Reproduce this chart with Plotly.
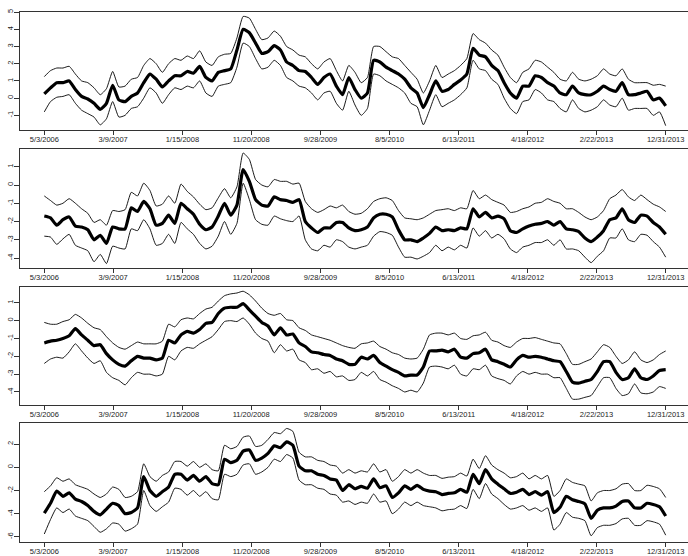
import pandas as pd
import plotly.graph_objects as go

# ---- data -----------------------------------------------------------------
start = pd.Timestamp("2006-05-03")
end = pd.Timestamp("2013-12-31")
dates = pd.date_range(start, end, periods=101)

tick_dates = ["2006-05-03", "2007-03-09", "2008-01-15", "2008-11-20", "2009-09-28",
              "2010-08-05", "2011-06-13", "2012-04-18", "2013-02-22", "2013-12-31"]
tick_labels = ["5/3/2006", "3/9/2007", "1/15/2008", "11/20/2008", "9/28/2009",
               "8/5/2010", "6/13/2011", "4/18/2012", "2/22/2013", "12/31/2013"]

p1_mid = [0.25, 0.6, 0.9, 0.9, 1.0, 0.5, 0.1, -0.05, -0.3, -0.65,
          -0.3, 0.75, -0.1, -0.2, 0.1, 0.3, 0.9, 1.4, 1.1, 0.65,
          1.0, 1.3, 1.3, 1.55, 1.45, 1.85, 1.2, 1.0, 1.5, 1.6,
          1.7, 2.8, 4.0, 3.8, 3.2, 2.6, 2.7, 3.05, 2.8, 2.1,
          1.9, 1.6, 1.55, 1.2, 0.8, 1.2, 1.4, 0.7, 0.2, 1.2,
          0.5, 0.0, 0.3, 2.2, 2.1, 1.8, 1.6, 1.4, 1.1, 0.6,
          0.3, -0.55, 0.2, 1.0, 0.4, 0.5, 0.8, 1.05, 1.4, 2.9,
          2.5, 2.4, 1.9, 1.6, 0.9, 0.3, 0.0, 0.7, 0.7, 1.3,
          1.2, 0.9, 0.7, 0.3, 0.2, 0.7, 0.3, 0.2, 0.2, 0.4,
          0.7, 0.5, 0.4, 0.9, 0.2, 0.2, 0.3, 0.4, -0.1, 0.0,
          -0.45]
p1_hi = [1.25, 1.6, 1.75, 1.75, 1.85, 1.4, 1.0, 0.9, 0.6, 0.2,
         0.55, 1.55, 0.65, 0.7, 1.1, 1.2, 1.9, 2.3, 2.0, 1.5,
         2.0, 2.3, 2.2, 2.45, 2.3, 2.75, 2.1, 1.9, 2.4, 2.55,
         2.6, 3.5, 4.75, 4.65, 4.0, 3.4, 3.5, 3.9, 3.6, 3.0,
         2.8, 2.5, 2.4, 2.0, 1.7, 2.1, 2.3, 1.6, 1.0, 1.9,
         1.5, 0.9, 1.2, 3.0, 3.0, 2.7, 2.4, 2.3, 1.9, 1.5,
         1.1, 0.3, 1.0, 1.9, 1.2, 1.4, 1.6, 1.9, 2.3, 3.75,
         3.4, 3.2, 2.8, 2.5, 1.8, 1.2, 0.9, 1.5, 1.7, 2.2,
         2.1, 1.8, 1.5, 1.1, 1.0, 1.5, 1.1, 1.0, 1.1, 1.3,
         1.7, 1.4, 1.3, 1.7, 1.1, 0.9, 0.9, 0.9, 0.75, 0.8,
         0.7]
p1_lo = [-0.8, -0.2, 0.05, 0.1, 0.2, -0.3, -0.7, -0.9, -1.1, -1.55,
         -1.2, -0.2, -1.1, -1.0, -0.6, -0.5, 0.0, 0.6, 0.3, -0.3,
         0.2, 0.6, 0.5, 0.7, 0.6, 1.0, 0.3, 0.1, 0.7, 0.8,
         0.9, 1.8, 3.2, 3.0, 2.3, 1.7, 1.8, 2.2, 1.9, 1.2,
         1.0, 0.7, 0.6, 0.3, -0.1, 0.3, 0.4, -0.3, -0.7, 0.4,
         -0.4, -1.0, -0.6, 1.4, 1.3, 1.0, 0.8, 0.6, 0.3, -0.3,
         -0.5, -1.55, -0.7, 0.2, -0.5, -0.3, -0.1, 0.2, 0.6, 2.2,
         1.7, 1.6, 1.1, 0.8, 0.0, -0.6, -0.9, -0.2, -0.1, 0.5,
         0.3, -0.1, -0.2, -0.6, -0.8, -0.1, -0.6, -0.8, -0.7, -0.5,
         -0.1, -0.4, -0.5, 0.0, -0.7, -0.6, -0.6, -0.6, -1.0, -0.8,
         -1.6]

p2_mid = [-1.7, -1.8, -2.2, -1.9, -1.75, -2.25, -2.3, -2.45, -3.0, -2.75,
          -3.2, -2.3, -2.4, -2.4, -1.25, -1.45, -0.9, -1.3, -2.2, -2.1,
          -1.65, -2.1, -1.0, -1.3, -1.6, -2.15, -2.45, -2.3, -1.7, -1.0,
          -1.65, -1.1, 0.85, 0.2, -0.8, -1.1, -1.15, -0.65, -0.8, -0.85,
          -0.95, -0.8, -2.0, -2.35, -2.6, -2.35, -2.35, -2.05, -2.05, -2.35,
          -2.5, -2.45, -2.3, -1.8, -1.6, -1.6, -1.75, -2.45, -3.0, -3.0,
          -3.1, -2.9, -2.65, -2.3, -2.5, -2.45, -2.5, -2.35, -2.4, -1.3,
          -1.75, -1.5, -1.8, -1.7, -1.85, -2.5, -2.6, -2.4, -2.25, -2.15,
          -2.1, -2.0, -2.2, -2.0, -2.4, -2.45, -2.55, -2.9, -3.1, -2.85,
          -2.5, -1.9, -1.8, -1.3, -1.9, -2.05, -1.65, -1.7, -2.05, -2.3,
          -2.7]
p2_hi = [-0.6, -0.85, -1.1, -1.0, -0.75, -1.0, -1.3, -1.55, -2.05, -1.9,
         -2.2, -1.4, -1.45, -1.35, -0.4, -0.6, 0.1, -0.3, -1.15, -1.05,
         -0.6, -1.0, 0.05, -0.35, -0.65, -1.05, -1.35, -1.25, -0.7, -0.2,
         -0.7, -0.1, 1.75, 1.4, 0.3, 0.0, -0.1, 0.3, 0.2, 0.2,
         0.05, 0.1, -0.9, -1.3, -1.5, -1.35, -1.15, -1.25, -1.1, -1.45,
         -1.6, -1.55, -1.3, -0.9, -0.75, -0.7, -0.85, -1.4, -1.8, -1.85,
         -1.9, -1.8, -1.6, -1.4, -1.35, -1.3, -1.4, -1.25, -1.3, -0.3,
         -0.75, -0.55, -0.8, -0.95, -1.1, -1.5, -1.45, -1.3, -1.2, -1.0,
         -0.95, -0.75, -0.9, -1.0, -1.3, -1.3, -1.5, -1.75, -1.9, -1.75,
         -1.4, -0.75, -0.55, -0.25, -0.65, -0.85, -0.55, -0.8, -1.05, -1.2,
         -1.45]
p2_lo = [-2.8, -2.85, -3.25, -2.95, -2.7, -3.3, -3.45, -3.6, -4.2, -3.8,
         -4.3, -3.35, -3.45, -3.5, -2.4, -2.5, -1.9, -2.4, -3.3, -3.2,
         -2.7, -3.2, -2.05, -2.4, -2.7, -3.2, -3.5, -3.35, -2.8, -2.0,
         -2.7, -2.1, 0.1, -0.8, -1.9, -2.15, -2.2, -1.7, -1.85, -1.95,
         -2.0, -1.7, -3.0, -3.5, -3.6, -3.3, -3.4, -3.0, -3.1, -3.4,
         -3.5, -3.4, -3.3, -2.8, -2.55, -2.6, -2.75, -3.4, -3.95, -3.95,
         -4.05, -3.9, -3.7, -3.3, -3.6, -3.4, -3.55, -3.3, -3.45, -2.35,
         -2.8, -2.5, -2.9, -2.7, -2.95, -3.5, -3.7, -3.4, -3.3, -3.15,
         -3.15, -3.0, -3.3, -3.0, -3.5, -3.5, -3.6, -3.95, -4.25, -3.9,
         -3.6, -2.9, -2.9, -2.4, -3.0, -3.1, -2.7, -2.75, -3.1, -3.4,
         -3.95]

p3_mid = [-1.25, -1.15, -1.1, -1.0, -0.85, -0.45, -0.8, -1.1, -1.4, -1.35,
          -1.85, -2.2, -2.45, -2.55, -2.25, -2.0, -2.1, -2.1, -2.2, -2.1,
          -1.1, -1.25, -0.8, -0.6, -0.7, -0.5, -0.15, -0.1, 0.4, 0.7,
          0.75, 0.75, 0.95, 0.6, 0.25, -0.1, -0.3, -0.8, -0.4, -0.8,
          -0.75, -1.25, -1.45, -1.75, -1.8, -1.9, -1.95, -2.15, -2.25, -2.45,
          -2.45, -2.05, -2.15, -1.95, -2.35, -2.55, -2.75, -2.9, -3.1, -3.05,
          -3.05, -2.6, -1.7, -1.7, -1.65, -1.75, -1.6, -2.05, -2.1, -1.85,
          -1.8, -1.6, -2.2, -2.3, -2.45, -2.6, -2.2, -1.95, -2.05, -2.0,
          -2.05, -2.15, -2.25, -2.3, -2.85, -3.45, -3.5, -3.4, -3.3, -2.85,
          -2.3, -2.3, -2.9, -3.3, -3.2, -2.7, -3.2, -3.3, -3.1, -2.8,
          -2.75]
p3_hi = [-0.1, -0.2, -0.2, -0.05, 0.05, 0.35, 0.15, -0.15, -0.4, -0.5,
         -0.9, -1.25, -1.5, -1.6, -1.4, -1.2, -1.3, -1.3, -1.3, -1.15,
         -0.2, -0.35, 0.05, 0.15, 0.1, 0.4, 0.65, 0.75, 1.1, 1.4,
         1.5, 1.55, 1.65, 1.45, 1.1, 0.7, 0.4, 0.3, 0.4, 0.05,
         0.0, -0.4, -0.55, -0.8, -0.9, -1.0, -1.1, -1.25, -1.4, -1.5,
         -1.55, -1.3, -1.25, -1.15, -1.45, -1.6, -1.8, -1.9, -2.1, -2.15,
         -2.1, -1.6, -0.8, -0.7, -0.7, -0.8, -0.7, -1.0, -1.05, -0.85,
         -0.8, -0.65, -1.1, -1.2, -1.4, -1.5, -1.2, -1.0, -1.0, -0.95,
         -1.05, -1.15, -1.25, -1.3, -1.85, -2.45, -2.45, -2.3, -2.15, -1.75,
         -1.35, -1.5, -2.0, -2.4, -2.2, -1.75, -2.2, -2.35, -2.2, -1.9,
         -1.7]
p3_lo = [-2.4, -2.15, -2.05, -2.1, -1.75, -1.3, -1.7, -2.1, -2.4, -2.25,
         -2.9, -3.2, -3.35, -3.6, -3.2, -2.9, -3.0, -3.0, -3.1, -3.0,
         -2.0, -2.2, -1.7, -1.5, -1.55, -1.3, -1.1, -0.9, -0.5, -0.05,
         0.0, -0.05, 0.15, -0.2, -0.7, -1.0, -1.15, -1.8, -1.35, -1.7,
         -1.6, -2.2, -2.35, -2.75, -2.7, -2.95, -2.85, -3.15, -3.1, -3.35,
         -3.3, -2.9, -3.1, -2.85, -3.3, -3.45, -3.65, -3.8, -4.0, -3.9,
         -4.0, -3.5, -2.6, -2.55, -2.6, -2.7, -2.5, -3.0, -3.1, -2.7,
         -2.75, -2.5, -3.1, -3.25, -3.35, -3.55, -3.1, -2.85, -3.0, -2.9,
         -3.0, -3.0, -3.2, -3.2, -3.8, -4.4, -4.4, -4.3, -4.2, -3.7,
         -3.2, -3.2, -3.8, -4.2, -4.1, -3.55, -4.05, -4.1, -4.0, -3.7,
         -3.8]

p4_mid = [-3.95, -3.1, -2.05, -2.5, -2.2, -2.75, -2.95, -3.3, -3.8, -4.1,
          -3.6, -3.1, -3.3, -4.0, -3.9, -3.5, -0.8, -2.0, -2.5, -2.1,
          -1.7, -0.6, -0.6, -1.1, -0.7, -1.2, -0.8, -1.4, -1.5, 0.7,
          0.4, 0.6, 1.4, 1.5, 0.6, 0.8, 1.2, 1.85, 1.7, 2.2,
          1.9, 0.1, -0.3, -0.3, -0.6, -0.7, -1.0, -1.1, -2.0, -1.5,
          -1.85, -1.65, -1.8, -1.0, -1.75, -1.6, -2.6, -2.2, -1.6, -1.9,
          -1.55, -1.9, -2.05, -2.1, -2.35, -2.25, -2.2, -1.9, -2.15, -0.6,
          -1.4, -0.2, -1.0, -1.45, -1.85, -2.25, -2.15, -1.9, -2.35, -2.1,
          -2.4, -2.1, -3.9, -3.45, -2.5, -2.8, -2.95, -3.15, -4.4, -3.7,
          -3.5, -3.5, -3.35, -2.95, -2.9, -3.5, -3.5, -3.1, -3.2, -3.4,
          -4.2]
p4_hi = [-2.1, -1.6, -0.9, -1.2, -1.0, -1.5, -1.7, -1.9, -2.3, -2.6,
         -2.3, -1.7, -1.9, -2.6, -2.5, -2.1, 0.3, -0.8, -1.2, -0.7,
         -0.4, 0.5, 0.5, 0.1, 0.5, 0.0, 0.3, -0.2, -0.3, 1.9,
         1.6, 1.8, 2.6, 2.7, 1.8, 1.9, 2.4, 3.0, 2.9, 3.35,
         3.1, 1.3, 0.9, 0.9, 0.6, 0.5, 0.2, 0.1, -0.5, -0.2,
         -0.5, -0.3, -0.4, 0.3, -0.4, -0.2, -1.2, -0.8, -0.2, -0.5,
         -0.2, -0.5, -0.7, -0.7, -0.95, -0.85, -0.8, -0.5, -0.75, 0.7,
         -0.1, 1.0, 0.2, -0.2, -0.5, -0.9, -0.8, -0.5, -1.0, -0.7,
         -1.0, -0.7, -2.5, -2.0, -1.0, -1.3, -1.45, -1.6, -2.9, -2.2,
         -2.0, -2.0, -1.85, -1.45, -1.4, -2.0, -2.0, -1.55, -1.65, -1.85,
         -2.6]
p4_lo = [-5.75, -4.5, -3.5, -3.9, -3.6, -4.2, -4.4, -4.6, -5.1, -5.6,
         -5.3, -4.8, -4.9, -5.5, -5.3, -4.9, -2.0, -3.3, -3.8, -3.4,
         -3.0, -1.8, -1.9, -2.4, -2.0, -2.5, -2.1, -2.7, -2.8, -0.6,
         -0.8, -0.6, 0.2, 0.3, -0.6, -0.4, 0.0, 0.7, 0.5, 1.1,
         0.8, -1.1, -1.5, -1.5, -1.8, -1.9, -2.3, -2.4, -3.0, -2.9,
         -3.2, -3.0, -3.1, -2.3, -3.0, -2.9, -4.0, -3.6, -3.0, -3.3,
         -3.0, -3.3, -3.4, -3.5, -3.75, -3.65, -3.6, -3.3, -3.55, -1.9,
         -2.7, -1.4, -2.3, -2.7, -3.2, -3.6, -3.5, -3.3, -3.7, -3.5,
         -3.8, -3.5, -5.4, -4.9, -3.9, -4.3, -4.4, -4.6, -5.9, -5.2,
         -5.0, -5.0, -4.85, -4.45, -4.4, -5.0, -5.0, -4.6, -4.7, -4.9,
         -5.85]

p1_ticks = [-1, 0, 1, 2, 3, 4, 5]
p2_ticks = [-4, -3, -2, -1, 0, 1]
p3_ticks = [-4, -3, -2, -1, 0, 1]
p4_ticks = [-6, -4, -2, 0, 2]

panels = [
    (p1_mid, p1_hi, p1_lo, p1_ticks, (-1.87, 5.01)),
    (p2_mid, p2_hi, p2_lo, p2_ticks, (-4.52, 1.96)),
    (p3_mid, p3_hi, p3_lo, p3_ticks, (-4.72, 1.90)),
    (p4_mid, p4_hi, p4_lo, p4_ticks, (-6.42, 3.82)),
]

# ---- layout geometry (pixels) -----------------------------------------------
W, H = 688, 556
plot_left = 20
panel_px = [(9, 128), (147, 266), (285.3, 404), (422.3, 541.7)]
x_lo = start - pd.Timedelta(days=109.5)
x_hi = end + pd.Timedelta(days=100.5)

FONT = "Liberation Sans, Arial, Helvetica, sans-serif"
INK = "#222222"
AXIS = "#333333"

fig = go.Figure()
layout = dict(
    width=W, height=H,
    margin=dict(l=0, r=0, t=0, b=0),
    paper_bgcolor="white", plot_bgcolor="white",
    showlegend=False,
    font=dict(family=FONT, size=7.5, color=INK),
)

for k, (mid, hi, lo, yt, yr) in enumerate(panels):
    n = "" if k == 0 else str(k + 1)
    xa, ya = "x" + n, "y" + n
    for series, w in ((hi, 0.9), (lo, 0.9), (mid, 3.2)):
        fig.add_trace(go.Scatter(
            x=dates, y=series, mode="lines", xaxis=xa, yaxis=ya,
            line=dict(color="black", width=w, shape="spline", smoothing=0.5),
            hoverinfo="skip",
        ))
    top, bot = panel_px[k]
    layout["xaxis" + n] = dict(
        domain=[plot_left / W, 1.0], anchor=ya,
        range=[x_lo, x_hi], type="date",
        tickmode="array", tickvals=tick_dates, ticktext=tick_labels,
        ticks="outside", ticklen=4, tickwidth=1, tickcolor=AXIS,
        ticklabelstandoff=-2,
        showline=True, linecolor=AXIS, linewidth=1, mirror=True,
        showgrid=False, zeroline=False,
        tickfont=dict(family=FONT, size=7.5, color=INK),
    )
    layout["yaxis" + n] = dict(
        domain=[1 - bot / H, 1 - top / H], anchor=xa,
        range=list(yr),
        tickmode="array", tickvals=yt, ticktext=[str(v) for v in yt],
        tickangle=-90,
        ticks="outside", ticklen=5, tickwidth=1, tickcolor=AXIS,
        ticklabelstandoff=-2,
        showline=True, linecolor=AXIS, linewidth=1,
        showgrid=False, zeroline=False,
        tickfont=dict(family=FONT, size=7.5, color=INK),
    )

fig.update_layout(**layout)
fig.write_html("out.html")
